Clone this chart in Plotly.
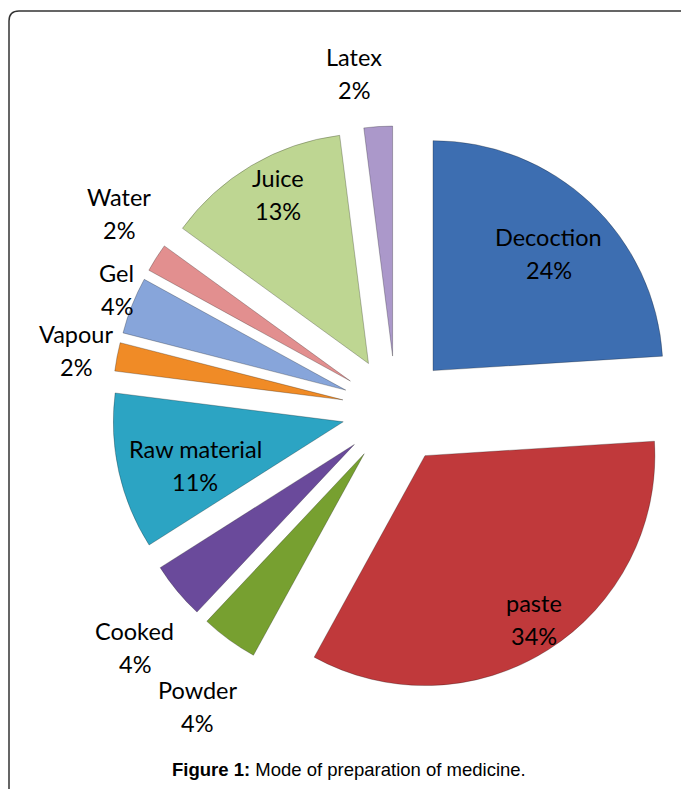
import math
import plotly.graph_objects as go

categories = ["Decoction", "paste", "Powder", "Cooked", "Raw material",
              "Vapour", "Gel", "Water", "Juice", "Latex"]
percent_values = [24, 34, 4, 4, 11, 2, 4, 2, 13, 2]
slice_colors = ["#3d6eb1", "#c0393b", "#77a030", "#6a4a9b", "#2ca4c3",
                "#f08b26", "#87a5da", "#e28f8f", "#bed692", "#ab98ca"]
# label distance from each pulled slice's apex, as a fraction of the radius
label_radius = [0.69, 0.82, 1.31, 1.29, 0.66, 1.24, 1.08, 1.22, 0.80, 1.22]
# small pixel nudges of the labels (style)
label_nudge_x = [7, 8, 10, 9, 0, 13, 2, 6, 3, -21]
label_nudge_y = [-1, 5, 9, 14, 11, 4, -9, -17, -11, -3]

W, H = 681, 789
cx, cy, half = 396, 410, 284
pull = 0.235
r = half / (1 + pull)

fig = go.Figure(go.Pie(
    labels=categories,
    values=percent_values,
    sort=False,
    direction="clockwise",
    rotation=0,
    pull=[pull] * len(categories),
    marker=dict(colors=slice_colors, line=dict(color="rgba(0,0,0,0.25)", width=1)),
    textposition="none",
    automargin=False,
    showlegend=False,
    hoverinfo="skip",
    domain=dict(x=[(cx - half) / W, (cx + half) / W],
                y=[1 - (cy + half) / H, 1 - (cy - half) / H]),
))

total = sum(percent_values)
cum = 0
label_font = dict(family="Lato, Carlito, sans-serif", size=23.5, color="black")
for name, val, k, nx, ny in zip(categories, percent_values, label_radius,
                                label_nudge_x, label_nudge_y):
    mid = (cum + val / 2) / total * 2 * math.pi
    cum += val
    dx, dy = math.sin(mid), -math.cos(mid)
    px = cx + (pull + k) * r * dx + nx
    py = cy + (pull + k) * r * dy + ny
    pct = f"{round(val / total * 100)}%"
    for txt, off in ((name, -16.5), (pct, 16.5)):
        fig.add_annotation(xref="paper", yref="paper", x=px / W, y=1 - (py + off) / H,
                           text=txt, showarrow=False, xanchor="center", yanchor="middle",
                           font=label_font)

bx, by = 9 / W, 1 - 11 / H
fig.add_shape(type="path", xref="paper", yref="paper",
              path=f"M {bx},0 L {bx},{by - 10 / H} Q {bx},{by} {bx + 10 / W},{by} L 1,{by}",
              line=dict(color="#333333", width=1.5))

fig.add_annotation(xref="paper", yref="paper", x=349 / W, y=1 - 769 / H,
                   text="<b>Figure 1:</b> Mode of preparation of medicine.",
                   showarrow=False, xanchor="center", yanchor="middle",
                   font=dict(family="Liberation Sans, Arial, sans-serif", size=18.5, color="black"))

fig.update_layout(width=W, height=H,
                  margin=dict(l=0, r=0, t=0, b=0, pad=0, autoexpand=False),
                  paper_bgcolor="white", plot_bgcolor="white")
fig.write_html("out.html")
